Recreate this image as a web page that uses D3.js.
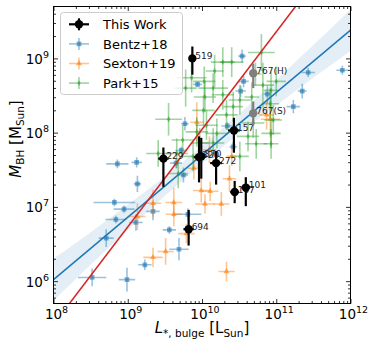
<!DOCTYPE html>
<html><head><meta charset="utf-8">
<script src="https://cdn.jsdelivr.net/npm/d3@7/dist/d3.min.js"></script>
<style>body{margin:0;background:#fff}svg{display:block}text{font-family:"DejaVu Sans",sans-serif}</style>
</head><body><svg id="c" width="373" height="349"></svg>
<script>
// ---------- DATA (log10 values, errors in dex) ----------
const xTickExps = [8, 9, 10, 11, 12];
const yTickExps = [6, 7, 8, 9];

const thisWorkLabels = ["519","229","320","370","272","157","147","101","694","767(H)","767(S)"];
const thisWorkGroup  = ["main","main","main","main","main","main","main","main","main","alt","alt"];
const thisWorkLogL   = [9.87, 9.48, 9.96, 9.99, 10.19, 10.43, 10.44, 10.59, 9.82, 10.69, 10.69];
const thisWorkLogM   = [9.00, 7.65, 7.67, 7.68, 7.59, 8.03, 7.20, 7.26, 6.70, 8.80, 8.26];
const thisWorkXErr   = [0.04, 0.07, 0.07, 0.06, 0.08, 0.08, 0.06, 0.06, 0.07, 0.03, 0.03];
const thisWorkYUp    = [0.16, 0.15, 0.28, 0.25, 0.16, 0.17, 0.15, 0.14, 0.26, 0.13, 0.16];
const thisWorkYDn    = [0.22, 0.38, 0.34, 0.30, 0.29, 0.30, 0.15, 0.25, 0.22, 0.20, 0.16];

const bentzLogL = [8.86,9.12,9.13,8.82,8.95,8.84,9.11,9.34,8.71,8.52,8.99,9.23,9.56,9.69,9.81,9.77,9.94,10.54,10.56,10.52,10.88,10.34,11.43,11.35,11.23,11.89,9.72,9.65,9.75,10.42];
const bentzLogM = [7.58,7.60,7.31,7.06,6.97,6.83,6.79,6.94,6.58,6.05,6.02,6.22,6.69,6.43,6.90,8.12,8.65,9.03,8.69,8.56,8.52,8.09,8.81,8.56,8.35,8.84,7.76,7.59,7.43,7.81];
const bentzXErr = [0.15,0.07,0.05,0.28,0.14,0.14,0.09,0.09,0.10,0.19,0.11,0.09,0.09,0.13,0.18,0.05,0.06,0.05,0.07,0.07,0.05,0.08,0.09,0.06,0.09,0.08,0.08,0.08,0.06,0.05];
const bentzYErr = [0.06,0.07,0.11,0.05,0.05,0.05,0.11,0.12,0.12,0.12,0.16,0.07,0.05,0.15,0.08,0.09,0.04,0.09,0.08,0.08,0.12,0.05,0.06,0.10,0.09,0.06,0.05,0.07,0.10,0.06];

const sextonLogL = [9.34,9.62,9.62,9.13,9.34,9.51,9.99,10.11,10.04,10.26,9.79,10.33,10.92,9.93,10.10,10.37,10.40,9.89,10.87];
const sextonLogM = [7.05,7.06,6.90,6.87,6.32,6.40,7.22,7.21,7.04,7.04,6.64,6.13,8.18,8.14,7.77,7.38,7.68,7.52,8.24];
const sextonXErr = [0.11,0.11,0.11,0.11,0.13,0.11,0.11,0.11,0.13,0.11,0.11,0.11,0.13,0.09,0.09,0.09,0.07,0.08,0.10];
const sextonYErr = [0.18,0.20,0.16,0.18,0.13,0.18,0.16,0.13,0.13,0.16,0.13,0.13,0.25,0.27,0.18,0.18,0.13,0.15,0.20];

const parkLogL = [10.80,10.28,10.40,10.17,10.03,9.86,9.78,10.15,10.82,11.00,10.04,10.28,10.51,10.93,10.42,10.92,10.02,9.55,10.69,10.96,10.33,10.06,10.62,10.93,10.20,9.93,10.73,10.93,10.15,9.97,9.74,9.88,10.51,9.66,9.68,10.67,10.72,9.41];
const parkLogM = [9.08,8.95,8.95,8.83,8.69,8.74,8.60,8.60,8.64,8.69,8.48,8.51,8.44,8.57,8.35,8.39,8.30,8.18,8.13,8.17,8.24,8.10,7.95,7.99,7.99,8.01,7.85,7.85,7.86,7.86,7.90,7.68,7.68,7.72,7.45,8.48,8.79,7.72];
const parkXErr = [0.18,0.16,0.16,0.12,0.15,0.20,0.15,0.20,0.15,0.13,0.15,0.15,0.15,0.10,0.13,0.12,0.15,0.18,0.15,0.12,0.15,0.15,0.15,0.13,0.15,0.15,0.15,0.10,0.15,0.12,0.15,0.15,0.12,0.15,0.13,0.10,0.08,0.16];
const parkYErr = [0.25,0.20,0.20,0.22,0.20,0.20,0.25,0.20,0.30,0.20,0.20,0.20,0.20,0.25,0.20,0.20,0.20,0.22,0.20,0.20,0.20,0.20,0.20,0.20,0.20,0.20,0.20,0.20,0.20,0.20,0.20,0.20,0.20,0.20,0.20,0.20,0.15,0.18];

// fitted relation (blue) with confidence band, and red relation
const bandLogL  = [8, 8.5, 9, 9.5, 10, 10.5, 11, 11.5, 12];
const bandLo    = [5.74, 6.22, 6.69, 7.15, 7.58, 7.99, 8.37, 8.74, 9.10];
const bandHi    = [6.30, 6.66, 7.03, 7.41, 7.82, 8.25, 8.71, 9.18, 9.66];
const blueFitLogL = [8, 12];
const blueFitLogM = [6.02, 9.38];
const redFitLogL  = [8.215, 11.26];
const redFitLogM  = [5.70, 9.70];

const legendLabels = ["This Work", "Bentz+18", "Sexton+19", "Park+15"];

// ---------- CHART ----------
const P = (v) => Math.pow(10, v);
const L = 53.5, R = 350.5, T = 6.5, B = 303.5;
const x = d3.scaleLog().domain([1e8, 1e12]).range([L, R]);
const y = d3.scaleLog().domain([5e5, 5e9]).range([B, T]);
const svg = d3.select("#c");

svg.append("defs").append("clipPath").attr("id","clip")
  .append("rect").attr("x",L).attr("y",T).attr("width",R-L).attr("height",B-T);
const plot = svg.append("g").attr("clip-path","url(#clip)");

// band
plot.append("path")
  .datum(bandLogL.map((v,i)=>({l:v, lo:bandLo[i], hi:bandHi[i]})))
  .attr("d", d3.area().curve(d3.curveMonotoneX)
     .x(d=>x(P(d.l))).y0(d=>y(P(d.lo))).y1(d=>y(P(d.hi))))
  .attr("fill","#1f77b4").attr("fill-opacity",0.12);

const COLORS = {bentz:"#1f77b4", sexton:"#ff7f0e", park:"#2ca02c"};
const symSq = d3.symbol().type(d3.symbolSquare).size(22)();
const symTri = d3.symbol().type(d3.symbolTriangle).size(15)();
const symDia = d3.symbol().type(d3.symbolDiamond).size(10)();

function series(Ls, Ms, XE, YE, color, sym){
  const g = plot.append("g");
  Ls.forEach((l,i)=>{
    const cx = x(P(l)), cy = y(P(Ms[i]));
    g.append("line").attr("x1",x(P(l-XE[i]))).attr("x2",x(P(l+XE[i]))).attr("y1",cy).attr("y2",cy)
      .attr("stroke",color).attr("stroke-opacity",0.45).attr("stroke-width",1.6);
    g.append("line").attr("x1",cx).attr("x2",cx).attr("y1",y(P(Ms[i]-YE[i]))).attr("y2",y(P(Ms[i]+YE[i])))
      .attr("stroke",color).attr("stroke-opacity",0.45).attr("stroke-width",1.6);
    g.append("path").attr("d",sym).attr("transform",`translate(${cx},${cy})`)
      .attr("fill",color).attr("fill-opacity",0.6);
  });
}
series(bentzLogL, bentzLogM, bentzXErr, bentzYErr, COLORS.bentz, symSq);
series(sextonLogL, sextonLogM, sextonXErr, sextonYErr, COLORS.sexton, symTri);
series(parkLogL, parkLogM, parkXErr, parkYErr, COLORS.park, symDia);

// fit lines
const line = d3.line().x(d=>x(P(d[0]))).y(d=>y(P(d[1])));
plot.append("path").attr("d", line(blueFitLogL.map((v,i)=>[v, blueFitLogM[i]])))
  .attr("stroke","#1f77b4").attr("stroke-width",1.5).attr("fill","none");
plot.append("path").attr("d", line(redFitLogL.map((v,i)=>[v, redFitLogM[i]])))
  .attr("stroke","#d62728").attr("stroke-width",1.5).attr("fill","none");

// this work
const tw = svg.append("g");
thisWorkLogL.forEach((l,i)=>{
  const c = thisWorkGroup[i]==="alt" ? "#7f7f7f" : "#000";
  const cx = x(P(l)), cy = y(P(thisWorkLogM[i]));
  tw.append("line").attr("x1",x(P(l-thisWorkXErr[i]))).attr("x2",x(P(l+thisWorkXErr[i]))).attr("y1",cy).attr("y2",cy)
    .attr("stroke",c).attr("stroke-width",2.2);
  tw.append("line").attr("x1",cx).attr("x2",cx)
    .attr("y1",y(P(thisWorkLogM[i]-thisWorkYDn[i]))).attr("y2",y(P(thisWorkLogM[i]+thisWorkYUp[i])))
    .attr("stroke",c).attr("stroke-width",2.2);
  tw.append("circle").attr("cx",cx).attr("cy",cy).attr("r",4.2).attr("fill",c);
  tw.append("text").attr("x",cx+3).attr("y",cy+0.8).attr("font-size",9).attr("fill","#222")
    .text(thisWorkLabels[i]);
});

// frame
svg.append("rect").attr("x",L).attr("y",T).attr("width",R-L).attr("height",B-T)
  .attr("fill","none").attr("stroke","#000").attr("stroke-width",1);

// ticks (inward, all sides)
function minors(dom){
  const out=[]; for(let e=5;e<=12;e++) for(let k=2;k<=9;k++){const v=k*Math.pow(10,e); if(v>dom[0]&&v<dom[1]) out.push(v);} return out;
}
const xMaj = xTickExps.map(P), yMaj = yTickExps.map(P);
function axisG(gen, tx, ty){
  const g = svg.append("g").attr("transform",`translate(${tx},${ty})`).call(gen);
  g.select(".domain").remove(); g.selectAll("line").attr("stroke","#000").attr("stroke-width",0.8);
  g.selectAll("text").remove();
}
[[d3.axisBottom(x),0,B],[d3.axisTop(x),0,T]].forEach(([a,tx,ty])=>{
  axisG(a.tickValues(xMaj).tickSize(-4.5).tickFormat(""),tx,ty);
});
axisG(d3.axisBottom(x).tickValues(minors(x.domain())).tickSize(-2.5).tickFormat(""),0,B);
axisG(d3.axisTop(x).tickValues(minors(x.domain())).tickSize(-2.5).tickFormat(""),0,T);
axisG(d3.axisLeft(y).tickValues(yMaj).tickSize(-4.5).tickFormat(""),L,0);
axisG(d3.axisRight(y).tickValues(yMaj).tickSize(-4.5).tickFormat(""),R,0);
axisG(d3.axisLeft(y).tickValues(minors(y.domain())).tickSize(-2.5).tickFormat(""),L,0);
axisG(d3.axisRight(y).tickValues(minors(y.domain())).tickSize(-2.5).tickFormat(""),R,0);

// tick labels
xTickExps.forEach(e=>{
  const t = svg.append("text").attr("x",x(P(e))+3).attr("y",318.5).attr("text-anchor","middle").attr("font-size",13.5);
  t.append("tspan").text("10");
  t.append("tspan").attr("font-size",9.5).attr("dy",-6).text(e);
});
yTickExps.forEach(e=>{
  const t = svg.append("text").attr("x",49).attr("y",y(P(e))+5.5).attr("text-anchor","end").attr("font-size",13.5);
  t.append("tspan").text("10");
  t.append("tspan").attr("font-size",9.5).attr("dy",-6).text(e);
});

// axis labels
const xl = svg.append("text").attr("x",202).attr("y",333).attr("text-anchor","middle").attr("font-size",15);
xl.append("tspan").attr("font-style","italic").text("L");
xl.append("tspan").attr("font-size",10.5).attr("dy",3.5).text("*, bulge");
xl.append("tspan").attr("dy",-3.5).text(" [L");
xl.append("tspan").attr("font-size",10.5).attr("dy",3.5).text("Sun");
xl.append("tspan").attr("dy",-3.5).text("]");

const yl = svg.append("text").attr("transform","translate(20.5,139) rotate(-90)").attr("text-anchor","middle").attr("font-size",15);
yl.append("tspan").attr("font-style","italic").text("M");
yl.append("tspan").attr("font-size",10.5).attr("dy",3.5).text("BH");
yl.append("tspan").attr("dy",-3.5).text(" [M");
yl.append("tspan").attr("font-size",10.5).attr("dy",3.5).text("Sun");
yl.append("tspan").attr("dy",-3.5).text("]");

// legend
const lg = svg.append("g");
lg.append("rect").attr("x",60.5).attr("y",12.5).attr("width",122).attr("height",82).attr("rx",3)
  .attr("fill","#fff").attr("fill-opacity",0.8).attr("stroke","#ccc").attr("stroke-width",1);
const legColors = ["#000", COLORS.bentz, COLORS.sexton, COLORS.park];
const legSyms = [null, symSq, symTri, symDia];
legendLabels.forEach((lab,i)=>{
  const cy = 24.3 + i*19.6, cx = 79;
  const op = i===0 ? 1 : 0.45;
  lg.append("line").attr("x1",cx-10).attr("x2",cx+10).attr("y1",cy).attr("y2",cy)
    .attr("stroke",legColors[i]).attr("stroke-opacity",op).attr("stroke-width",i===0?2.2:1.6);
  lg.append("line").attr("x1",cx).attr("x2",cx).attr("y1",cy-6).attr("y2",cy+6)
    .attr("stroke",legColors[i]).attr("stroke-opacity",op).attr("stroke-width",i===0?2.2:1.6);
  if(i===0) lg.append("circle").attr("cx",cx).attr("cy",cy).attr("r",4.2).attr("fill","#000");
  else lg.append("path").attr("d",legSyms[i]).attr("transform",`translate(${cx},${cy})`)
    .attr("fill",legColors[i]).attr("fill-opacity",0.6);
  lg.append("text").attr("x",103).attr("y",cy+4.7).attr("font-size",13).text(lab);
});
</script></body></html>
